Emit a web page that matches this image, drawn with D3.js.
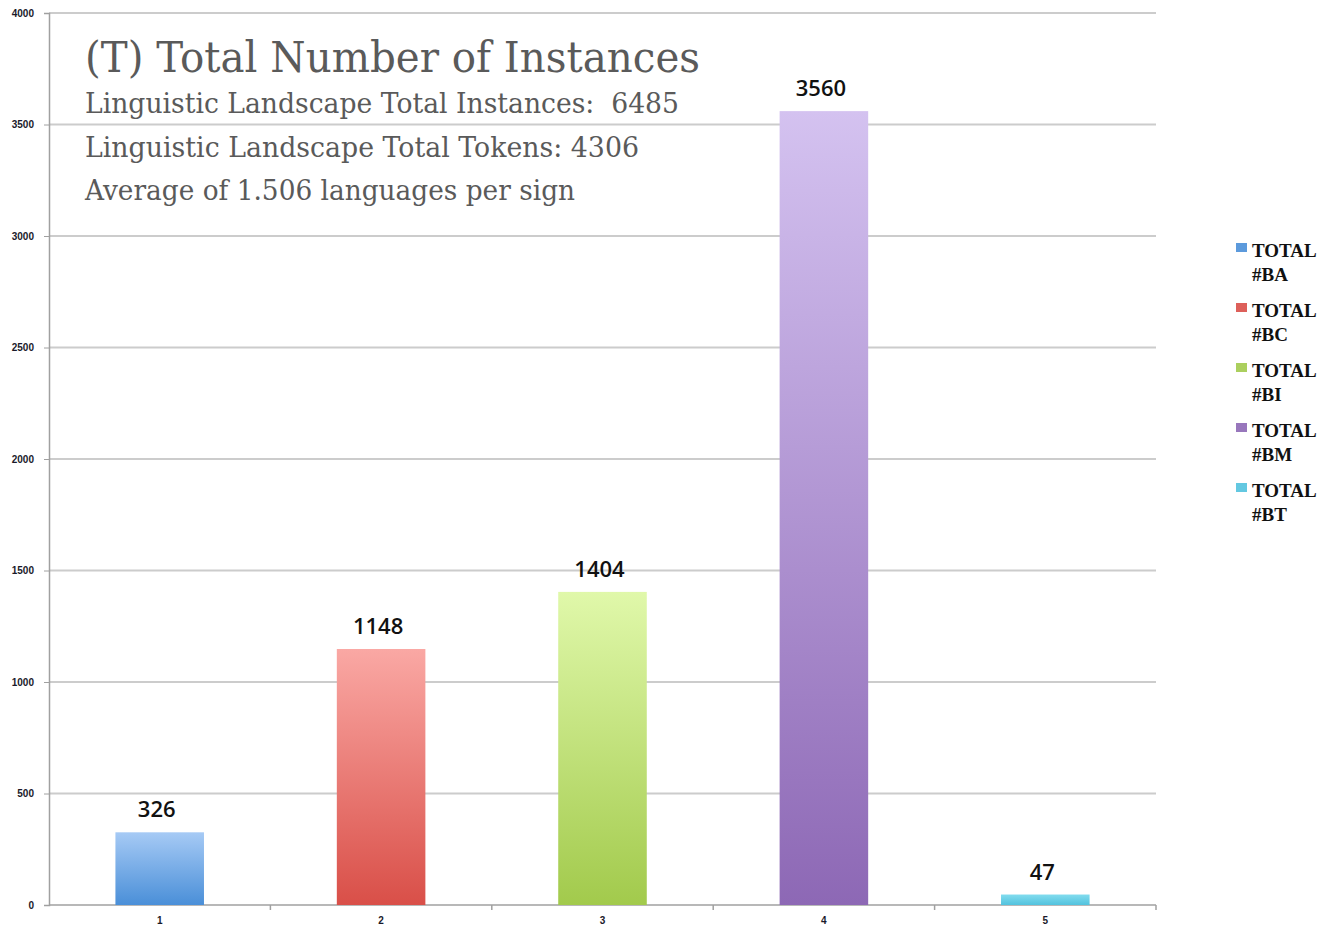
<!DOCTYPE html>
<html><head><meta charset="utf-8">
<script src="https://cdn.jsdelivr.net/npm/d3@7"></script>
<style>body{margin:0;background:#fff}svg{display:block}text{white-space:pre}</style>
</head><body>
<svg id="c" width="1332" height="930"></svg>
<script>
const categories = ["1","2","3","4","5"];
const values = [326, 1148, 1404, 3560, 47];
const seriesNames = ["TOTAL #BA","TOTAL #BC","TOTAL #BI","TOTAL #BM","TOTAL #BT"];
const yTicks = [0,500,1000,1500,2000,2500,3000,3500,4000];
const colorsTop = ["#a6caf5","#faa8a4","#e0f8aa","#d4c2f0","#82dcee"];
const colorsBottom = ["#4a8fd8","#d94f48","#a2ca4c","#8d68b5","#52c2de"];
const titleText = "(T) Total Number of Instances";
const subLines = ["Linguistic Landscape Total Instances:  6485","Linguistic Landscape Total Tokens: 4306","Average of 1.506 languages per sign"];

const svg = d3.select("#c");
const m = {l:49, r:1156, t:13, b:905};
const x = d3.scaleBand().domain(categories).range([m.l, m.r]).paddingInner(0).paddingOuter(0);
const y = d3.scaleLinear().domain([0,4000]).range([m.b, m.t]);

const defs = svg.append("defs");
categories.forEach((c,i)=>{
  const g = defs.append("linearGradient").attr("id","g"+i).attr("x1",0).attr("y1",0).attr("x2",0).attr("y2",1);
  g.append("stop").attr("offset","0%").attr("stop-color",colorsTop[i]);
  g.append("stop").attr("offset","100%").attr("stop-color",colorsBottom[i]);
});

// gridlines
svg.append("g").selectAll("line").data(yTicks.filter(d=>d>0)).join("line")
  .attr("x1",m.l).attr("x2",m.r).attr("y1",d=>y(d)).attr("y2",d=>y(d))
  .attr("stroke","#cccccc").attr("stroke-width",2);

// y axis
const ya = svg.append("g").attr("transform",`translate(${m.l},0)`)
  .call(d3.axisLeft(y).tickValues(yTicks).tickFormat(d3.format("d")).tickSize(5).tickPadding(10));
ya.select(".domain").attr("stroke","#a0a0a0").attr("stroke-width",1.5);
ya.selectAll(".tick line").attr("stroke","#a0a0a0");
ya.selectAll("text").attr("font-family","Liberation Sans, Arial, sans-serif").attr("font-size",10).attr("font-weight","bold").attr("fill","#1a1a2a");

// x axis
const xa = svg.append("g").attr("transform",`translate(0,${m.b})`)
  .call(d3.axisBottom(x).tickSize(0).tickPadding(12));
xa.select(".domain").remove();
xa.selectAll("text").attr("font-family","Liberation Sans, Arial, sans-serif").attr("font-size",10).attr("font-weight","bold").attr("fill","#1a1a2a");
svg.append("line").attr("x1",m.l).attr("x2",m.r).attr("y1",m.b).attr("y2",m.b).attr("stroke","#a0a0a0").attr("stroke-width",1.5);
svg.append("g").selectAll("line").data(categories).join("line")
  .attr("x1",d=>x(d)+x.bandwidth()).attr("x2",d=>x(d)+x.bandwidth())
  .attr("y1",m.b).attr("y2",m.b+5).attr("stroke","#a0a0a0").attr("stroke-width",1.5);

// bars
const bw = x.bandwidth()*0.4;
svg.append("g").selectAll("rect").data(values).join("rect")
  .attr("x",(d,i)=>x(categories[i])+x.bandwidth()/2-bw/2)
  .attr("width",bw)
  .attr("y",d=>y(d)).attr("height",d=>y(0)-y(d))
  .attr("fill",(d,i)=>`url(#g${i})`);

// value labels
svg.append("g").selectAll("text").data(values).join("text")
  .attr("x",(d,i)=>x(categories[i])+x.bandwidth()/2-3)
  .attr("y",d=>y(d)-15)
  .attr("text-anchor","middle")
  .attr("font-family","Open Sans, Liberation Sans, sans-serif").attr("font-weight","600")
  .attr("font-size",22).attr("fill","#111")
  .text(d=>d);

// title block
svg.append("text").attr("x",85).attr("y",72).attr("font-family","DejaVu Serif, serif")
  .attr("font-size",42).attr("fill","#5a5a5a").attr("textLength",615).attr("lengthAdjust","spacingAndGlyphs")
  .text(titleText);
const subW = [594, 554, 490];
svg.append("g").selectAll("text").data(subLines).join("text")
  .attr("x",85).attr("y",(d,i)=>113+i*43.5)
  .attr("font-family","DejaVu Serif, serif").attr("font-size",27).attr("fill","#5a5a5a")
  .attr("textLength",(d,i)=>subW[i]).attr("lengthAdjust","spacingAndGlyphs")
  .text(d=>d);

// legend
const lg = svg.append("g").selectAll("g").data(seriesNames).join("g")
  .attr("transform",(d,i)=>`translate(1236,${243+i*60})`);
lg.append("rect").attr("width",11).attr("height",9).attr("fill",(d,i)=>colorsBottom[i]).attr("opacity",0.9);
lg.append("text").attr("x",16).attr("y",14).attr("font-family","Liberation Serif, Times New Roman, serif")
  .attr("font-size",19).attr("font-weight","bold").attr("fill","#111")
  .selectAll("tspan").data(d=>d.split(" ")).join("tspan")
  .attr("x",16).attr("dy",(d,i)=>i===0?0:24).text(d=>d);
</script>
</body></html>
